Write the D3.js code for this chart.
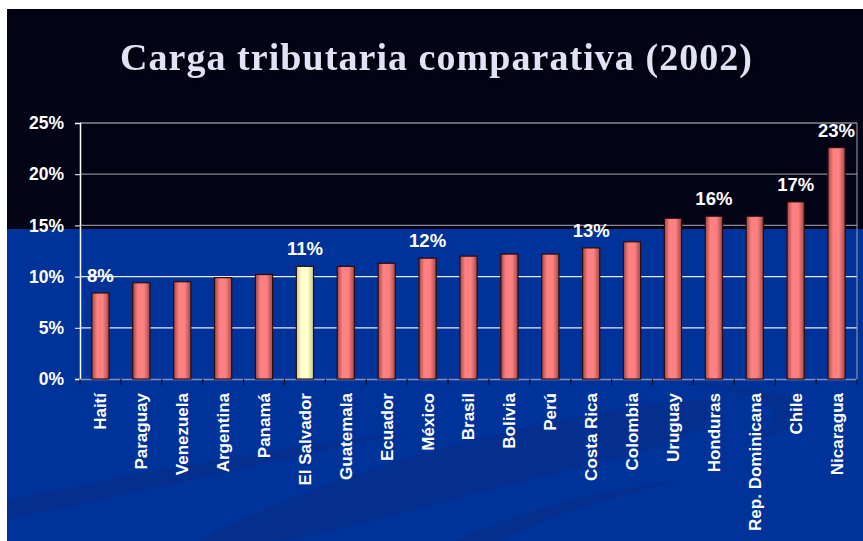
<!DOCTYPE html>
<html>
<head>
<meta charset="utf-8">
<script src="https://cdn.jsdelivr.net/npm/d3@7"></script>
<style>
  html, body { margin: 0; padding: 0; background: #ffffff; }
  svg { display: block; }
</style>
</head>
<body>
<div id="chart"></div>
<script>
// data
var countries = ["Haití", "Paraguay", "Venezuela", "Argentina", "Panamá", "El Salvador",
  "Guatemala", "Ecuador", "México", "Brasil", "Bolivia", "Perú", "Costa Rica",
  "Colombia", "Uruguay", "Honduras", "Rep. Dominicana", "Chile", "Nicaragua"];
var values = [8.4, 9.4, 9.5, 9.9, 10.2, 11.0, 11.0, 11.3, 11.8, 12.0, 12.2, 12.2, 12.8,
  13.4, 15.7, 15.9, 15.9, 17.3, 22.6];
var labelled = ["Haití", "El Salvador", "México", "Costa Rica", "Honduras", "Chile", "Nicaragua"];
var highlight = "El Salvador";
var yTicks = [0, 5, 10, 15, 20, 25];

var W = 863, H = 541;
var margin = { top: 123, right: 6, bottom: 162, left: 80 };
var width = W - margin.left - margin.right,
    height = H - margin.top - margin.bottom;

var svg = d3.select("#chart").append("svg")
  .attr("width", W).attr("height", H);

var defs = svg.append("defs");
function barGrad(id, edge, mid) {
  var g = defs.append("linearGradient").attr("id", id)
    .attr("x1", "0%").attr("x2", "100%").attr("y1", "0%").attr("y2", "0%");
  g.append("stop").attr("offset", "0%").attr("stop-color", edge);
  g.append("stop").attr("offset", "30%").attr("stop-color", mid);
  g.append("stop").attr("offset", "65%").attr("stop-color", mid);
  g.append("stop").attr("offset", "100%").attr("stop-color", edge);
}
barGrad("gRed", "#a04848", "#ff8080");
barGrad("gYel", "#c8c890", "#ffffcc");

// slide background
svg.append("rect").attr("x", 7).attr("y", 9).attr("width", W - 7).attr("height", H - 9)
  .attr("fill", "#003399");
svg.append("rect").attr("x", 7).attr("y", 9).attr("width", W - 7).attr("height", 220)
  .attr("fill", "#030316");

// decorative swooshes
var sw = svg.append("g").attr("fill", "#0a2a80").attr("opacity", 0.4);
sw.append("path").attr("d", "M200,541 C330,470 520,420 690,400 C720,396 735,410 700,430 C650,455 560,470 470,495 C380,520 300,541 270,541 Z");
sw.append("path").attr("d", "M455,541 C520,510 600,490 690,478 C600,500 540,520 500,541 Z");
sw.append("path").attr("d", "M7,500 C150,470 300,445 420,430 C300,455 150,490 7,520 Z");
sw.append("path").attr("d", "M660,380 C760,385 820,400 800,420 C790,430 760,440 740,445 C770,430 790,415 760,400 C730,390 700,385 660,380 Z");

// title
svg.append("text")
  .attr("x", 436).attr("y", 70)
  .attr("text-anchor", "middle")
  .attr("font-family", "'Liberation Serif', 'Times New Roman', serif")
  .attr("font-size", 38).attr("font-weight", "bold")
  .attr("textLength", 632).attr("lengthAdjust", "spacing")
  .attr("fill", "#e2e2f6")
  .style("filter", "drop-shadow(2px 2px 1px rgba(0,0,0,0.8))")
  .text("Carga tributaria comparativa (2002)");

var g = svg.append("g").attr("transform", "translate(" + margin.left + "," + margin.top + ")");

var x = d3.scaleBand().domain(countries).range([0, width]).paddingInner(0.58).paddingOuter(0.29);
var xb = d3.scaleBand().domain(countries).range([0, width]);
var y = d3.scaleLinear().domain([0, 25]).range([height, 0]);

// gridlines
g.selectAll("line.grid").data(yTicks.slice(1)).enter().append("line")
  .attr("x1", 0).attr("x2", width)
  .attr("y1", function(d) { return y(d); }).attr("y2", function(d) { return y(d); })
  .attr("stroke", function(d) { return y(d) + margin.top < 229 ? "#8a8a94" : "#e8ecff"; })
  .attr("stroke-width", function(d) { return d === 25 ? 1.5 : 1.3; });

// right border
g.append("line").attr("x1", width).attr("x2", width).attr("y1", 0).attr("y2", height)
  .attr("stroke", "#a0a0b0").attr("stroke-width", 1);

// y axis
var yAxis = g.append("g").call(d3.axisLeft(y).tickValues(yTicks).tickSize(5)
  .tickFormat(function(d) { return d + "%"; }));
yAxis.select(".domain").attr("stroke", "#ffffff").attr("stroke-width", 1.5);
yAxis.selectAll(".tick line").attr("stroke", "#ffffff");
yAxis.selectAll(".tick text")
  .attr("fill", "#ffffff").attr("x", -16)
  .attr("font-family", "'Liberation Sans', Arial, sans-serif")
  .attr("font-size", 17.5).attr("font-weight", "bold");

// x axis
var xAxis = g.append("g").attr("transform", "translate(0," + height + ")")
  .call(d3.axisBottom(xb).tickSize(0).tickFormat(function(d) { return d; }));
xAxis.select(".domain").attr("stroke", "#8090c0").attr("stroke-width", 1.5);
xAxis.selectAll(".tick text")
  .attr("fill", "#ffffff")
  .attr("font-family", "'Liberation Sans', Arial, sans-serif")
  .attr("font-size", 17).attr("font-weight", "bold")
  .attr("text-anchor", "end")
  .attr("dy", "0.35em")
  .attr("transform", "translate(0,14) rotate(-90)")
  .attr("x", 0).attr("y", 0);

// category tick marks between bands
g.selectAll("line.ctick").data(countries.concat(["end"])).enter().append("line")
  .attr("x1", function(d, i) { return i * xb.step(); })
  .attr("x2", function(d, i) { return i * xb.step(); })
  .attr("y1", height).attr("y2", height + 6)
  .attr("stroke", "#101020").attr("stroke-width", 1.2);

// bars
g.selectAll("rect.bar").data(values).enter().append("rect")
  .attr("x", function(d, i) { return x(countries[i]); })
  .attr("y", function(d) { return y(d); })
  .attr("width", x.bandwidth())
  .attr("height", function(d) { return height - y(d); })
  .attr("fill", function(d, i) { return countries[i] === highlight ? "url(#gYel)" : "url(#gRed)"; })
  .attr("stroke", "#2a0c0c").attr("stroke-width", 1.2);

// value labels
g.selectAll("text.val").data(values).enter()
  .filter(function(d, i) { return labelled.indexOf(countries[i]) >= 0; })
  .append("text")
  .attr("x", function(d) { var i = values.indexOf(d); return x(countries[i]) + x.bandwidth() / 2; })
  .attr("y", function(d) { return y(d) - 11; })
  .attr("text-anchor", "middle")
  .attr("fill", "#ffffff")
  .attr("font-family", "'Liberation Sans', Arial, sans-serif")
  .attr("font-size", 18.5).attr("font-weight", "bold")
  .text(function(d) { return Math.round(d) + "%"; });
</script>
</body>
</html>
